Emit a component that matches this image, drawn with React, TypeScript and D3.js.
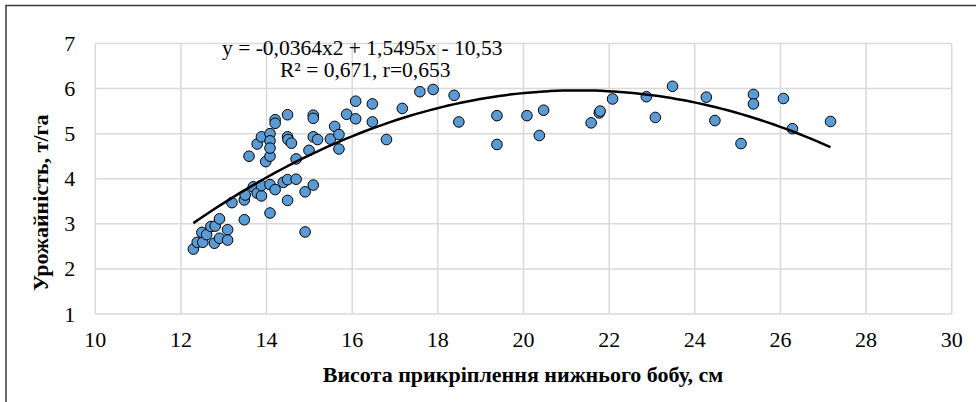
import React from "react";
import * as d3 from "d3";

// висота прикріплення нижнього бобу, см
const heightCm = [
  12.29, 12.38, 12.51, 12.49, 12.6, 12.7, 12.8, 12.78, 12.9, 12.9,
  13.09, 13.09, 13.19, 13.48, 13.48, 13.5, 13.59, 13.69, 13.78, 13.78,
  13.88, 13.88, 13.88, 13.98, 14.08, 14.08, 14.08, 14.08, 14.08, 14.08,
  14.2, 14.2, 14.2, 14.39, 14.49, 14.49, 14.5, 14.49, 14.49, 14.58,
  14.69, 14.69, 14.9, 14.9, 14.99, 15.09, 15.09, 15.09, 15.09, 15.19,
  15.49, 15.59, 15.69, 15.69, 15.87, 16.08, 16.08, 16.47, 16.47, 16.8,
  17.17, 17.58, 17.89, 18.38, 18.49, 19.38, 19.38, 20.08, 20.37, 20.47,
  21.58, 21.77, 21.79, 22.08, 22.87, 23.08, 23.48, 24.27, 24.47, 25.08,
  25.37, 25.37, 26.07, 26.28, 27.17,
];

// урожайність, т/га
const yieldT = [
  2.44, 2.59, 2.59, 2.81, 2.76, 2.94, 2.95, 2.57, 3.11, 2.68,
  2.87, 2.64, 3.47, 3.09, 3.53, 3.64, 4.5, 3.82, 3.68, 4.77,
  4.93, 3.62, 3.85, 4.38, 4.5, 5.0, 4.84, 4.68, 3.87, 3.24,
  5.31, 5.23, 3.76, 3.92, 5.42, 4.93, 4.87, 3.98, 3.52, 4.79,
  3.99, 4.44, 3.71, 2.82, 4.63, 5.41, 5.34, 4.93, 3.86, 4.87,
  4.88, 5.16, 4.98, 4.66, 5.43, 5.72, 5.33, 5.66, 5.26, 4.87,
  5.56, 5.93, 5.98, 5.85, 5.26, 5.4, 4.76, 5.4, 4.96, 5.52,
  5.24, 5.46, 5.5, 5.77, 5.82, 5.36, 6.05, 5.81, 5.29, 4.78,
  5.87, 5.66, 5.78, 5.11, 5.27,
];

const xTicks = [10, 12, 14, 16, 18, 20, 22, 24, 26, 28, 30];
const yTicks = [1, 2, 3, 4, 5, 6, 7];

// поліноміальний тренд (2-й ступінь), коефіцієнти з підпису
const trendCoef = { a: -0.0364, b: 1.5495, c: -10.53 };
const eqLines = ["y = -0,0364x2 + 1,5495x - 10,53", "R² = 0,671, r=0,653"];

const W = 976;
const H = 402;

const App = () => {
  const margin = { top: 43.5, right: 24.3, bottom: 88, left: 95.3 };

  const x = d3.scaleLinear().domain([10, 30]).range([margin.left, W - margin.right]);
  const y = d3.scaleLinear().domain([1, 7]).range([H - margin.bottom, margin.top]);

  const xMin = d3.min(heightCm) as number;
  const xMax = d3.max(heightCm) as number;
  const trendPts = d3.range(0, 101).map((i) => {
    const xv = xMin + ((xMax - xMin) * i) / 100;
    return [xv, trendCoef.a * xv * xv + trendCoef.b * xv + trendCoef.c];
  });
  const line = d3
    .line<number[]>()
    .x((d) => x(d[0]))
    .y((d) => y(d[1]))
    .curve(d3.curveMonotoneX);

  const points = heightCm.map((h, i) => ({ h, v: yieldT[i] }));

  return (
    <svg width={W} height={H} style={{ position: "absolute", left: 0, top: 0 }}>
      <rect x={0} y={0} width={W} height={H} fill="#fff" />
      <rect x={6} y={5.5} width={W + 10} height={H + 10} fill="none" stroke="#3a3a3a" strokeWidth={1.5} />

      {/* сітка */}
      {xTicks.map((t) => (
        <line key={"gx" + t} x1={x(t)} x2={x(t)} y1={y(7)} y2={y(1)} stroke="#d9d9d9" strokeWidth={1.5} />
      ))}
      {yTicks.map((t) => (
        <line key={"gy" + t} x1={x(10)} x2={x(30)} y1={y(t)} y2={y(t)} stroke="#d9d9d9" strokeWidth={1.5} />
      ))}

      {/* підписи осей */}
      {xTicks.map((t) => (
        <text key={"tx" + t} x={x(t)} y={y(1) + 33} textAnchor="middle" fontSize={22} fontFamily="Liberation Serif" style={{ fontFamily: "Liberation Serif" }}>
          {t}
        </text>
      ))}
      {yTicks.map((t) => (
        <text key={"ty" + t} x={x(10) - 20} y={y(t) + 7.5} textAnchor="end" fontSize={22} fontFamily="Liberation Serif" style={{ fontFamily: "Liberation Serif" }}>
          {t}
        </text>
      ))}

      {points.map((p, i) => (
        <circle key={i} cx={x(p.h)} cy={y(p.v)} r={5.3} fill="#5b9bd5" stroke="#000" strokeWidth={1} />
      ))}

      <path d={line(trendPts) || ""} fill="none" stroke="#000" strokeWidth={2.5} />

      <text x={222} y={55} fontSize={21.5} fontFamily="Liberation Serif" style={{ fontFamily: "Liberation Serif" }}>
        {eqLines[0]}
      </text>
      <text x={280} y={77} fontSize={21.5} fontFamily="Liberation Serif" style={{ fontFamily: "Liberation Serif" }}>
        {eqLines[1]}
      </text>

      <text x={523} y={381.5} textAnchor="middle" fontSize={22} fontWeight="bold" fontFamily="Liberation Serif" style={{ fontFamily: "Liberation Serif" }}>
        Висота прикріплення нижнього бобу, см
      </text>
      <text
        transform={`translate(48,${(y(1) + y(7)) / 2 + 24}) rotate(-90)`}
        textAnchor="middle"
        fontSize={22}
        fontWeight="bold"
        fontFamily="Liberation Serif"
        style={{ fontFamily: "Liberation Serif" }}
      >
        Урожайність, т/га
      </text>
    </svg>
  );
};

export default App;
